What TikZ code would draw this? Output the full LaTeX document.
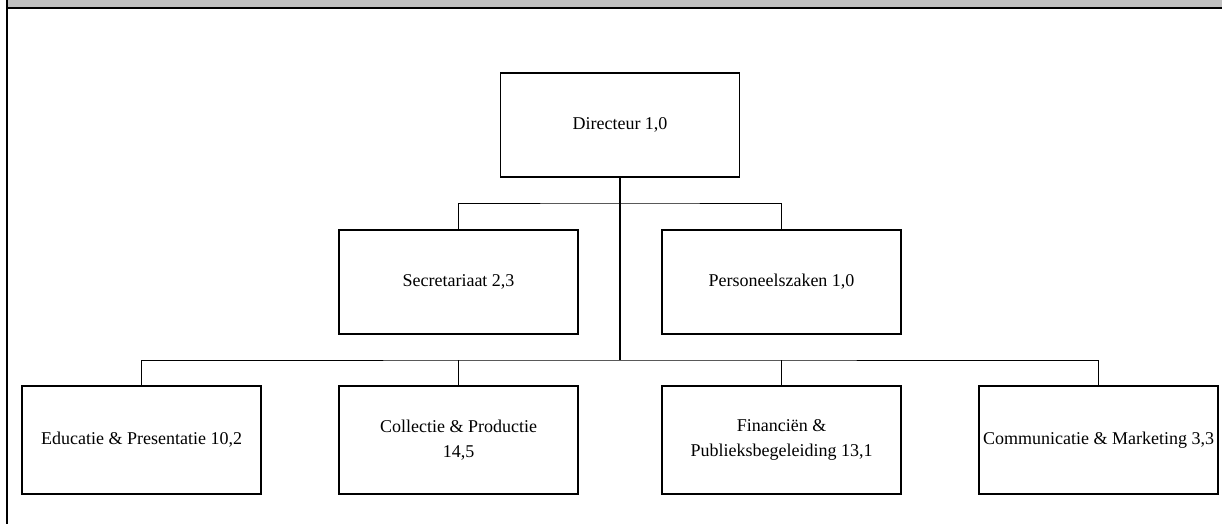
\documentclass[tikz,border=0pt]{standalone}
\usepackage{fontspec}
\setmainfont{Liberation Serif}
\usetikzlibrary{positioning}
\definecolor{barGray}{RGB}{192,192,192}

\begin{document}
\begin{tikzpicture}[
    x = 1pt, y = -1pt, % pixel grid, y downwards
    unit/.style = {draw = black, line width = 1.6pt, fill = white,
        minimum width = 239pt, minimum height = 104pt, inner sep = 2pt,
        outer sep = 0pt, align = center, font = \fontsize{18}{25}\selectfont},
    bottomunit/.style = {unit, minimum height = 108pt},
    link/.style = {line width = 0.8pt}, % thin connector
    trunk/.style = {line width = 1.6pt} % main vertical line
    ]

    \useasboundingbox (0,0) rectangle (1222,524);

    % frame
    \fill[barGray] (8,0) rectangle (1222,7);
    \draw[line width = 2pt] (7,0) -- (7,524);
    \draw[line width = 2pt] (6,8) -- (1222,8);

    \node[unit] (dir) at (620,125) {Directeur 1,0};
    \node[bottomunit] (edu) at (141.5,440) {Educatie \& Presentatie 10,2};
    \node[bottomunit] (col) [right=78pt of edu] {Collectie \& Productie\\14,5};
    \node[bottomunit] (fin) [right=84pt of col] {Financiën \&\\Publieksbegeleiding 13,1};
    \node[bottomunit] (com) [right=78pt of fin] {Communicatie \& Marketing 3,3};
    \node[unit] (sec) [above=52pt of col] {Secretariaat 2,3};
    \node[unit] (per) [above=52pt of fin] {Personeelszaken 1,0};

    \coordinate (upbus) at (620,203);
    \coordinate (lowbus) at (620,360);

    \draw[trunk] (dir.south) -- (lowbus);
    \draw[link] (sec.north) |- (upbus) -| (per.north);
    \draw[link] (edu.north) |- (lowbus) -| (com.north);
    \draw[link] (col.north) -- (col.north |- lowbus);
    \draw[link] (fin.north) -- (fin.north |- lowbus);
\end{tikzpicture}
\end{document}
